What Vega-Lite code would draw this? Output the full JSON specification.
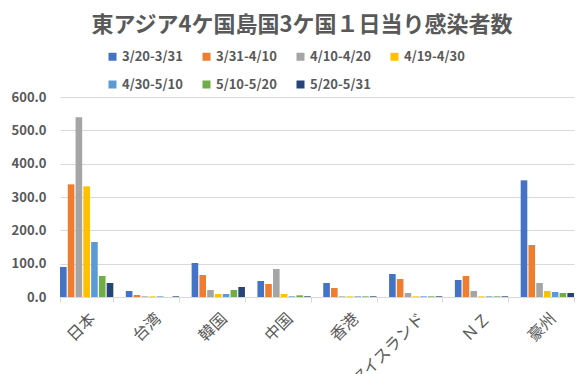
{
  "$schema": "https://vega.github.io/schema/vega-lite/v6.json",
  "width": 514,
  "height": 200,
  "autosize": {"type": "none"},
  "padding": {"left": 60, "top": 97, "right": 14, "bottom": 77},
  "background": "#ffffff",
  "config": {
    "font": "Noto Sans CJK JP",
    "view": {"stroke": null}
  },
  "title": {
    "text": "東アジア4ケ国島国3ケ国１日当り感染者数",
    "fontSize": 22,
    "fontWeight": "bold",
    "color": "#595959",
    "anchor": "middle",
    "frame": "group",
    "dx": -15,
    "offset": 13
  },
  "data": {
    "values": [
      {"country": "日本", "period": "3/20-3/31", "value": 90},
      {"country": "日本", "period": "3/31-4/10", "value": 338},
      {"country": "日本", "period": "4/10-4/20", "value": 539},
      {"country": "日本", "period": "4/19-4/30", "value": 332},
      {"country": "日本", "period": "4/30-5/10", "value": 165},
      {"country": "日本", "period": "5/10-5/20", "value": 63},
      {"country": "日本", "period": "5/20-5/31", "value": 42},
      {"country": "台湾", "period": "3/20-3/31", "value": 18},
      {"country": "台湾", "period": "3/31-4/10", "value": 6},
      {"country": "台湾", "period": "4/10-4/20", "value": 2},
      {"country": "台湾", "period": "4/19-4/30", "value": 2},
      {"country": "台湾", "period": "4/30-5/10", "value": 2},
      {"country": "台湾", "period": "5/10-5/20", "value": 0},
      {"country": "台湾", "period": "5/20-5/31", "value": 2},
      {"country": "韓国", "period": "3/20-3/31", "value": 102},
      {"country": "韓国", "period": "3/31-4/10", "value": 66},
      {"country": "韓国", "period": "4/10-4/20", "value": 21},
      {"country": "韓国", "period": "4/19-4/30", "value": 9},
      {"country": "韓国", "period": "4/30-5/10", "value": 9},
      {"country": "韓国", "period": "5/10-5/20", "value": 21},
      {"country": "韓国", "period": "5/20-5/31", "value": 30},
      {"country": "中国", "period": "3/20-3/31", "value": 48},
      {"country": "中国", "period": "3/31-4/10", "value": 39},
      {"country": "中国", "period": "4/10-4/20", "value": 84},
      {"country": "中国", "period": "4/19-4/30", "value": 9},
      {"country": "中国", "period": "4/30-5/10", "value": 2},
      {"country": "中国", "period": "5/10-5/20", "value": 5},
      {"country": "中国", "period": "5/20-5/31", "value": 2},
      {"country": "香港", "period": "3/20-3/31", "value": 42},
      {"country": "香港", "period": "3/31-4/10", "value": 27},
      {"country": "香港", "period": "4/10-4/20", "value": 2},
      {"country": "香港", "period": "4/19-4/30", "value": 2},
      {"country": "香港", "period": "4/30-5/10", "value": 2},
      {"country": "香港", "period": "5/10-5/20", "value": 2},
      {"country": "香港", "period": "5/20-5/31", "value": 2},
      {"country": "アイスランド", "period": "3/20-3/31", "value": 69},
      {"country": "アイスランド", "period": "3/31-4/10", "value": 54},
      {"country": "アイスランド", "period": "4/10-4/20", "value": 12},
      {"country": "アイスランド", "period": "4/19-4/30", "value": 2},
      {"country": "アイスランド", "period": "4/30-5/10", "value": 2},
      {"country": "アイスランド", "period": "5/10-5/20", "value": 2},
      {"country": "アイスランド", "period": "5/20-5/31", "value": 2},
      {"country": "ＮＺ", "period": "3/20-3/31", "value": 51},
      {"country": "ＮＺ", "period": "3/31-4/10", "value": 63},
      {"country": "ＮＺ", "period": "4/10-4/20", "value": 18},
      {"country": "ＮＺ", "period": "4/19-4/30", "value": 2},
      {"country": "ＮＺ", "period": "4/30-5/10", "value": 2},
      {"country": "ＮＺ", "period": "5/10-5/20", "value": 2},
      {"country": "ＮＺ", "period": "5/20-5/31", "value": 2},
      {"country": "豪州", "period": "3/20-3/31", "value": 350},
      {"country": "豪州", "period": "3/31-4/10", "value": 156},
      {"country": "豪州", "period": "4/10-4/20", "value": 42},
      {"country": "豪州", "period": "4/19-4/30", "value": 18},
      {"country": "豪州", "period": "4/30-5/10", "value": 15},
      {"country": "豪州", "period": "5/10-5/20", "value": 12},
      {"country": "豪州", "period": "5/20-5/31", "value": 12}
    ]
  },
  "mark": {"type": "bar"},
  "encoding": {
    "x": {
      "field": "country",
      "type": "nominal",
      "sort": ["日本", "台湾", "韓国", "中国", "香港", "アイスランド", "ＮＺ", "豪州"],
      "scale": {"paddingInner": 0.19, "paddingOuter": 0.0},
      "axis": {
        "title": null,
        "labelAngle": -45,
        "labelFontSize": 16,
        "labelColor": "#595959",
        "labelPadding": 8,
        "labelLimit": 300,
        "domainColor": "#D9D9D9",
        "tickColor": "#D9D9D9",
        "tickBand": "extent",
        "tickSize": 5
      }
    },
    "xOffset": {
      "field": "period",
      "type": "nominal",
      "sort": ["3/20-3/31", "3/31-4/10", "4/10-4/20", "4/19-4/30", "4/30-5/10", "5/10-5/20", "5/20-5/31"],
      "scale": {"paddingInner": 0.15}
    },
    "y": {
      "field": "value",
      "type": "quantitative",
      "scale": {"domain": [0, 600]},
      "axis": {
        "title": null,
        "format": ".1f",
        "values": [0, 100, 200, 300, 400, 500, 600],
        "labelOverlap": false,
        "labelFontSize": 13,
        "labelFontWeight": "bold",
        "labelColor": "#595959",
        "labelPadding": 14,
        "ticks": false,
        "domain": false,
        "gridColor": "#D9D9D9"
      }
    },
    "color": {
      "field": "period",
      "type": "nominal",
      "scale": {
        "domain": ["3/20-3/31", "3/31-4/10", "4/10-4/20", "4/19-4/30", "4/30-5/10", "5/10-5/20", "5/20-5/31"],
        "range": ["#4472C4", "#ED7D31", "#A5A5A5", "#FFC000", "#5B9BD5", "#70AD47", "#264478"]
      },
      "legend": {
        "title": null,
        "orient": "none",
        "legendX": 46,
        "legendY": -47,
        "direction": "horizontal",
        "columns": 4,
        "symbolType": "square",
        "symbolSize": 64,
        "symbolStrokeWidth": 0,
        "labelFontSize": 13,
        "labelFontWeight": "bold",
        "labelColor": "#595959",
        "labelOffset": 3,
        "columnPadding": 17,
        "rowPadding": 14
      }
    }
  }
}
